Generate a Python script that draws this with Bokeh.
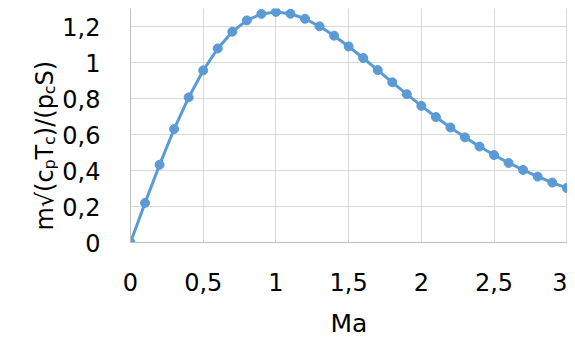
from math import pi
from bokeh.plotting import figure
from bokeh.models import FixedTicker, CustomJSTickFormatter
from bokeh.layouts import row
from bokeh.core.properties import value
from bokeh.embed import file_html
from bokeh.resources import INLINE

# ---- data ----
mach = [0.0, 0.1, 0.2, 0.3, 0.4, 0.5, 0.6, 0.7, 0.8, 0.9, 1.0,
        1.1, 1.2, 1.3, 1.4, 1.5, 1.6, 1.7, 1.8, 1.9, 2.0,
        2.1, 2.2, 2.3, 2.4, 2.5, 2.6, 2.7, 2.8, 2.9, 3.0]
flow = [0.0, 0.220, 0.432, 0.630, 0.806, 0.956, 1.078, 1.171, 1.234, 1.270, 1.281,
        1.271, 1.243, 1.201, 1.149, 1.089, 1.025, 0.958, 0.890, 0.824, 0.759,
        0.697, 0.639, 0.584, 0.533, 0.486, 0.442, 0.403, 0.366, 0.333, 0.303]
x_ticks = [0, 0.5, 1, 1.5, 2, 2.5, 3]
y_ticks = [0, 0.2, 0.4, 0.6, 0.8, 1.0, 1.2]
x_title = "Ma"
# y title pieces: (text, is_subscript)
y_title_parts = [("m√(c", False), ("p", True), ("T", False), ("c", True),
                 (")/(p", False), ("c", True), ("S)", False)]

# ---- layout ----
TOTAL_W, H = 567, 340
LW = 58                      # width of the strip holding the y title
W = TOTAL_W - LW
FL, FT, FB = 130 - LW, 8, 97
FH = H - FT - FB             # frame height (px)
X0, X1 = 0.0, 3.005
Y0, Y1 = 0.0, 1.3

FONT = "DejaVu Sans"
BLUE = "#5B9BD5"

p = figure(width=W, height=H, x_range=(X0, X1), y_range=(Y0, Y1),
           output_backend="svg", toolbar_location=None,
           min_border_left=FL, min_border_right=0, min_border_top=FT,
           min_border_bottom=FB)
p.outline_line_color = None

fmt = CustomJSTickFormatter(code="""
    var s = (Math.round(tick * 10) / 10).toString();
    return s.replace('.', ',');
""")

for ax, ticks in ((p.xaxis[0], x_ticks), (p.yaxis[0], y_ticks)):
    ax.ticker = FixedTicker(ticks=ticks)
    ax.formatter = fmt
    ax.major_tick_line_color = None
    ax.minor_tick_line_color = None
    ax.major_tick_in = 0
    ax.major_tick_out = 0
    ax.axis_line_color = "#bfbfbf"
    ax.axis_line_width = 1
    ax.major_label_text_font = FONT
    ax.major_label_text_font_size = "24px"
    ax.major_label_text_color = "#000000"
p.xaxis[0].major_label_standoff = 30
p.yaxis[0].major_label_standoff = 30

p.xaxis[0].axis_label = x_title
p.xaxis[0].axis_label_text_font = FONT
p.xaxis[0].axis_label_text_font_size = "25px"
p.xaxis[0].axis_label_text_font_style = "normal"
p.xaxis[0].axis_label_text_color = "#000000"
p.xaxis[0].axis_label_standoff = 15

p.xgrid.ticker = FixedTicker(ticks=x_ticks)
p.ygrid.ticker = FixedTicker(ticks=y_ticks)
p.xgrid.grid_line_color = "#d9d9d9"
p.ygrid.grid_line_color = "#d9d9d9"

p.line(mach, flow, line_color=BLUE, line_width=3)
p.scatter(mach, flow, size=9, fill_color=BLUE, line_color=BLUE, line_width=1)

# ---- y title strip: its frame is aligned with the main frame ----
# x: px from the strip's left edge; y: px above the frame bottom
t = figure(width=LW, height=H, x_range=(0, LW), y_range=(0, FH),
           output_backend="svg", toolbar_location=None,
           x_axis_type=None, y_axis_type=None,
           min_border_left=0, min_border_right=0, min_border_top=FT,
           min_border_bottom=FB)
t.outline_line_color = None
t.xgrid.visible = False
t.ygrid.visible = False

widths = {"m": 0.974, "√": 0.636, "(": 0.390, ")": 0.390, "c": 0.550,
          "T": 0.611, "/": 0.337, "p": 0.635, "S": 0.635}
MAIN, SUB = 24, 16
pos = 231.0                  # px from the top of the picture where the title starts
main_x, main_y, main_t = [], [], []
sub_x, sub_y, sub_t = [], [], []
for txt, sub in y_title_parts:
    fs = SUB if sub else MAIN
    yy = (H - FB) - pos
    if sub:
        sub_x.append(49.0); sub_y.append(yy); sub_t.append(txt)
    else:
        main_x.append(44.0); main_y.append(yy); main_t.append(txt)
    pos -= sum(widths.get(ch, 0.6) for ch in txt) * fs

t.text(x=main_x, y=main_y, text=main_t, angle=pi / 2,
       text_font=value(FONT), text_font_size=f"{MAIN}px", text_color="#000000",
       text_align="left", text_baseline="alphabetic")
t.text(x=sub_x, y=sub_y, text=sub_t, angle=pi / 2,
       text_font=value(FONT), text_font_size=f"{SUB}px", text_color="#000000",
       text_align="left", text_baseline="alphabetic")

layout = row(t, p, spacing=0)
open("out.html", "w").write(file_html(layout, INLINE))
